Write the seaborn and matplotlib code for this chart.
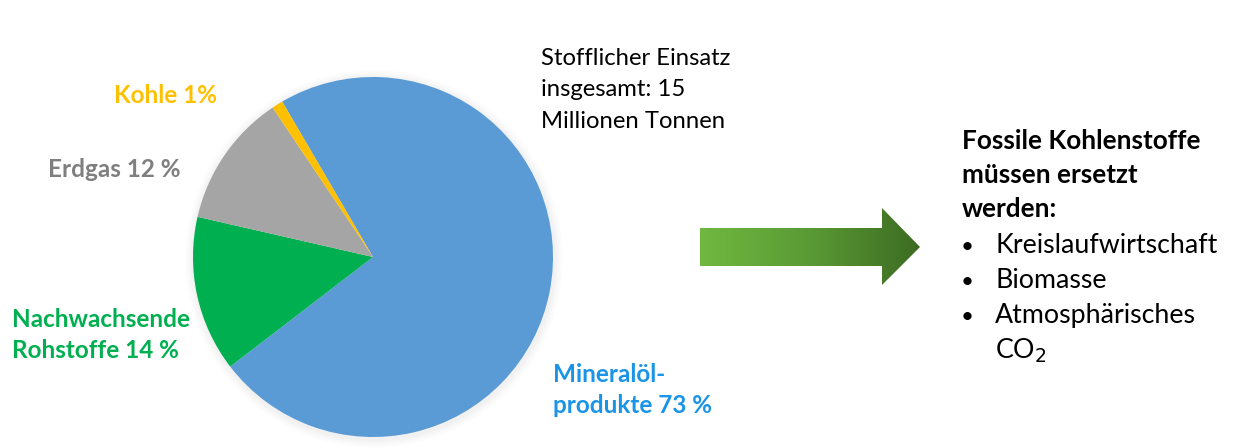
import numpy as np
import matplotlib.pyplot as plt
import seaborn as sns
from matplotlib.patches import Polygon, Circle

# Daten: stofflicher Einsatz in der Chemie (Anteile in %)
kategorien = ["Mineralöl-\nprodukte", "Nachwachsende\nRohstoffe", "Erdgas", "Kohle"]
anteile = [73, 14, 12, 1]
beschriftung = ["Mineralöl-\nprodukte 73 %", "Nachwachsende\nRohstoffe 14 %", "Erdgas 12 %", "Kohle 1%"]
farben = ["#5B9BD5", "#00B050", "#A5A5A5", "#FFC000"]
textfarben = ["#1A94E6", "#00B050", "#7F7F7F", "#FFC000"]
gesamt_text = ["Stofflicher Einsatz", "insgesamt: 15", "Millionen Tonnen"]
titel_rechts = ["Fossile Kohlenstoffe", "müssen ersetzt", "werden:"]
punkte = ["Kreislaufwirtschaft", "Biomasse", "Atmosphärisches", "CO$_2$"]

sns.set_theme(style="white")
plt.rcParams['font.family'] = ['Lato', 'DejaVu Sans']

W, H = 1237, 448
fig = plt.figure(figsize=(W / 100, H / 100), dpi=100)
fig.patch.set_facecolor("white")

def fx(x):
    return x / W

def fy(y):
    return 1 - y / H

# Kreisdiagramm
cx, cy, r = 373, 257, 180
lim = 1.08
ax = fig.add_axes([fx(cx - r * lim), fy(cy + r * lim), 2 * r * lim / W, 2 * r * lim / H])
ax.axis("off")
# weicher Schatten
for i, a in enumerate([0.025, 0.025, 0.03, 0.03]):
    ax.add_patch(Circle((0.005, -0.01), 1.0 + 0.012 * (4 - i), color="gray", alpha=a, lw=0))
ax.pie(anteile, colors=farben, startangle=120.3, counterclock=False,
       wedgeprops=dict(linewidth=0), radius=1.0)
ax.set_xlim(-lim, lim)
ax.set_ylim(-lim, lim)
ax.set_aspect("equal")

# Beschriftungen der Segmente (x links, y Grundlinie der ersten Zeile)
lab_pos = [(553, 382), (12, 327), (48, 177), (114, 103)]
for txt, col, (x, y) in zip(beschriftung, textfarben, lab_pos):
    for k, zeile in enumerate(txt.split("\n")):
        fig.text(fx(x), fy(y + k * 31), zeile, color=col, fontsize=17.5,
                 fontweight="bold", va="baseline", ha="left")

for k, zeile in enumerate(gesamt_text):
    fig.text(fx(541), fy(65 + k * 31.5), zeile, color="black", fontsize=17.2,
             va="baseline", ha="left")

# Pfeil mit Farbverlauf
ax2 = fig.add_axes([0, 0, 1, 1])
ax2.set_xlim(0, W)
ax2.set_ylim(H, 0)
ax2.axis("off")
ax2.patch.set_alpha(0)
pfeil = [(700, 228), (882, 228), (882, 208), (920, 247), (882, 285), (882, 266), (700, 266)]
grad = np.linspace(0, 1, 256).reshape(1, -1)
cmap = sns.blend_palette(["#70B840", "#5A9A35", "#3C6B22"], as_cmap=True)
img = ax2.imshow(grad, extent=[700, 920, 285, 208], cmap=cmap, aspect="auto", zorder=2)
poly = Polygon(pfeil, closed=True, facecolor="none", edgecolor="none")
ax2.add_patch(poly)
img.set_clip_path(poly)

# Text rechts
for k, zeile in enumerate(titel_rechts):
    fig.text(fx(962), fy(149 + k * 34), zeile, color="black", fontsize=18.8,
             fontweight="bold", va="baseline", ha="left")
for k, zeile in enumerate(punkte):
    yb = 253 + k * 35
    if k < 3:
        fig.text(fx(961), fy(yb), "•", color="black", fontsize=16, va="baseline", ha="left")
    fig.text(fx(995), fy(yb), zeile, color="black", fontsize=19.3, va="baseline", ha="left")

fig.savefig("out.png", dpi=100, facecolor="white")
